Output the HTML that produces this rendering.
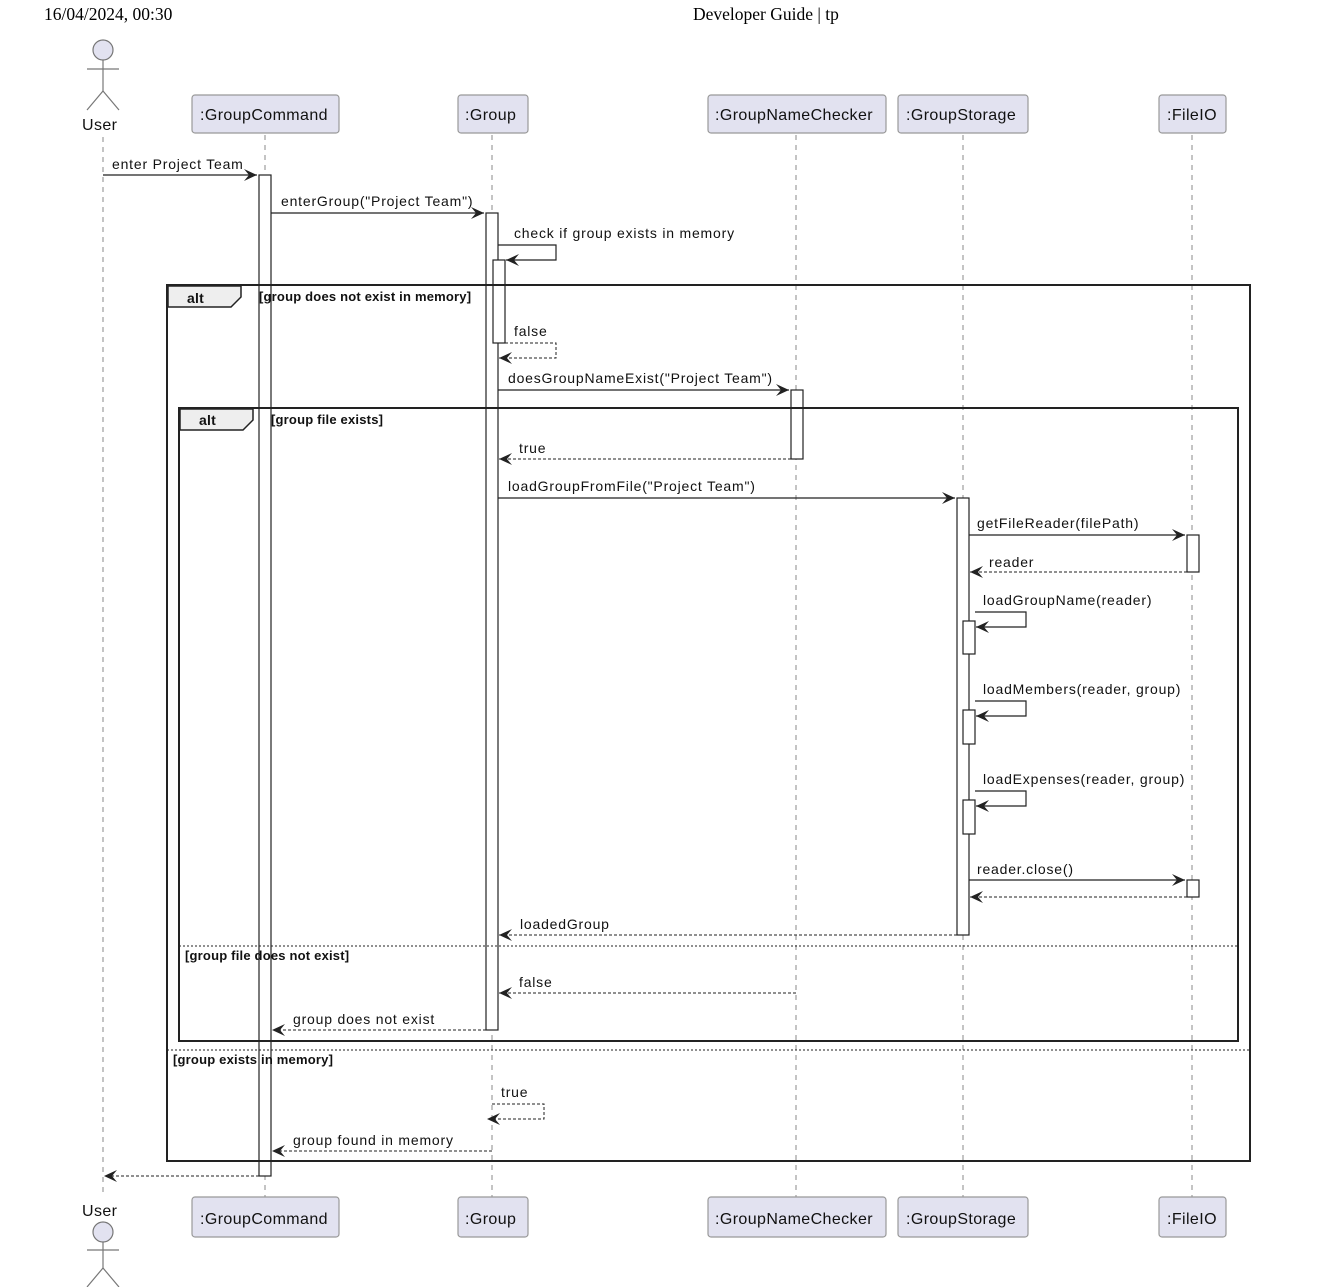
<!DOCTYPE html>
<html><head><meta charset="utf-8"><style>
html,body{margin:0;padding:0;background:#fff;}
svg{display:block;}
text{font-family:"Liberation Sans",Arial,sans-serif;font-size:14px;fill:#111;letter-spacing:0.8px;}
.hd{font-family:"Liberation Serif",serif;font-size:17.5px;fill:#000;letter-spacing:0;}
.b{font-weight:bold;font-size:13px;letter-spacing:0.2px;}
.p{font-size:16px;fill:#111;letter-spacing:0.4px;}
</style></head><body>
<svg width="1324" height="1287" viewBox="0 0 1324 1287" xmlns="http://www.w3.org/2000/svg">
<defs>
<marker id="ah" markerWidth="16" markerHeight="14" refX="13" refY="6" orient="auto" markerUnits="userSpaceOnUse">
<path d="M0,0 L13,6 L0,12 L5,6 Z" fill="#222"/>
</marker>
</defs>
<text class="hd" x="44" y="20">16/04/2024, 00:30</text>
<text class="hd" x="693" y="20">Developer Guide | tp</text>

<g stroke="#888" stroke-dasharray="5,5" stroke-width="1">
<line x1="103" y1="137" x2="103" y2="1195"/>
<line x1="265" y1="135" x2="265" y2="1197"/>
<line x1="492" y1="135" x2="492" y2="1197"/>
<line x1="796" y1="135" x2="796" y2="1197"/>
<line x1="963" y1="135" x2="963" y2="1197"/>
<line x1="1192" y1="135" x2="1192" y2="1197"/>
</g>

<g stroke="#777" fill="none" stroke-width="1.2">
<circle cx="103" cy="50" r="10" fill="#e2e2f0"/>
<line x1="103" y1="60" x2="103" y2="91"/><line x1="87" y1="69" x2="119" y2="69"/>
<line x1="103" y1="91" x2="87" y2="110"/><line x1="103" y1="91" x2="119" y2="110"/>
<circle cx="103" cy="1232" r="10" fill="#e2e2f0"/>
<line x1="103" y1="1242" x2="103" y2="1268"/><line x1="87" y1="1250" x2="119" y2="1250"/>
<line x1="103" y1="1268" x2="87" y2="1287"/><line x1="103" y1="1268" x2="119" y2="1287"/>
</g>
<text class="p" x="82" y="130">User</text>
<text class="p" x="82" y="1216">User</text>

<g fill="#e2e2f0" stroke="#999" stroke-width="1.2">
<rect x="192" y="95" width="147" height="38" rx="3"/><rect x="458" y="95" width="70" height="38" rx="3"/>
<rect x="708" y="95" width="178" height="38" rx="3"/><rect x="898" y="95" width="130" height="38" rx="3"/>
<rect x="1159" y="95" width="67" height="38" rx="3"/>
<rect x="192" y="1197" width="147" height="40" rx="3"/><rect x="458" y="1197" width="70" height="40" rx="3"/>
<rect x="708" y="1197" width="178" height="40" rx="3"/><rect x="898" y="1197" width="130" height="40" rx="3"/>
<rect x="1159" y="1197" width="67" height="40" rx="3"/>
</g>
<text class="p" x="200" y="120">:GroupCommand</text><text class="p" x="465" y="120">:Group</text>
<text class="p" x="715" y="120">:GroupNameChecker</text><text class="p" x="906" y="120">:GroupStorage</text>
<text class="p" x="1167" y="120">:FileIO</text>
<text class="p" x="200" y="1224">:GroupCommand</text><text class="p" x="465" y="1224">:Group</text>
<text class="p" x="715" y="1224">:GroupNameChecker</text><text class="p" x="906" y="1224">:GroupStorage</text>
<text class="p" x="1167" y="1224">:FileIO</text>

<g fill="#fff" stroke="#222" stroke-width="1.2">
<rect x="259" y="175" width="12" height="1001"/>
<rect x="486" y="213" width="12" height="817"/>
<rect x="493" y="260" width="12" height="83"/>
<rect x="791" y="390" width="12" height="69"/>
<rect x="957" y="498" width="12" height="437"/>
<rect x="1187" y="535" width="12" height="37"/>
<rect x="1187" y="880" width="12" height="17"/>
<rect x="963" y="621" width="12" height="33"/>
<rect x="963" y="710" width="12" height="34"/>
<rect x="963" y="800" width="12" height="34"/>
</g>

<g fill="none" stroke="#222" stroke-width="2">
<rect x="167" y="285" width="1083" height="876"/>
<rect x="179" y="408" width="1059" height="633"/>
</g>
<path d="M168,286 H241 V297 L231,307 H168 Z" fill="#eee" stroke="#222" stroke-width="1.5"/>
<path d="M180,409 H253 V420 L243,430 H180 Z" fill="#eee" stroke="#222" stroke-width="1.5"/>
<text class="b" x="187" y="303" style="font-size:14px">alt</text>
<text class="b" x="199" y="425" style="font-size:14px">alt</text>
<text class="b" x="259" y="301">[group does not exist in memory]</text>
<text class="b" x="271" y="424">[group file exists]</text>
<g stroke="#222" stroke-dasharray="2,2" stroke-width="1">
<line x1="179" y1="946" x2="1238" y2="946"/>
<line x1="167" y1="1050" x2="1250" y2="1050"/>
</g>
<text class="b" x="185" y="960">[group file does not exist]</text>
<text class="b" x="173" y="1064">[group exists in memory]</text>

<g stroke="#222" stroke-width="1.2" fill="none" marker-end="url(#ah)">
<line x1="103" y1="175" x2="257" y2="175"/>
<line x1="271" y1="213" x2="484" y2="213"/>
<polyline points="498,245 556,245 556,260 506,260"/>
<line x1="498" y1="390" x2="789" y2="390"/>
<line x1="498" y1="498" x2="955" y2="498"/>
<line x1="969" y1="535" x2="1185" y2="535"/>
<polyline points="975,612 1026,612 1026,627 976,627"/>
<polyline points="975,701 1026,701 1026,716 976,716"/>
<polyline points="975,791 1026,791 1026,806 976,806"/>
<line x1="969" y1="880" x2="1185" y2="880"/>
</g>
<g stroke="#222" stroke-width="1" fill="none" stroke-dasharray="3,2" marker-end="url(#ah)">
<polyline points="505,343 556,343 556,358 499,358"/>
<line x1="791" y1="459" x2="499" y2="459"/>
<line x1="1187" y1="572" x2="970" y2="572"/>
<line x1="1187" y1="897" x2="970" y2="897"/>
<line x1="957" y1="935" x2="499" y2="935"/>
<line x1="796" y1="993" x2="499" y2="993"/>
<line x1="486" y1="1030" x2="272" y2="1030"/>
<polyline points="492,1104 544,1104 544,1119 487,1119"/>
<line x1="492" y1="1151" x2="272" y2="1151"/>
<line x1="259" y1="1176" x2="104" y2="1176"/>
</g>

<text x="112" y="169">enter Project Team</text>
<text x="281" y="206">enterGroup("Project Team")</text>
<text x="514" y="238">check if group exists in memory</text>
<text x="514" y="336">false</text>
<text x="508" y="383">doesGroupNameExist("Project Team")</text>
<text x="519" y="453">true</text>
<text x="508" y="491">loadGroupFromFile("Project Team")</text>
<text x="977" y="528">getFileReader(filePath)</text>
<text x="989" y="567">reader</text>
<text x="983" y="605">loadGroupName(reader)</text>
<text x="983" y="694">loadMembers(reader, group)</text>
<text x="983" y="784">loadExpenses(reader, group)</text>
<text x="977" y="874">reader.close()</text>
<text x="520" y="929">loadedGroup</text>
<text x="519" y="987">false</text>
<text x="293" y="1024">group does not exist</text>
<text x="501" y="1097">true</text>
<text x="293" y="1145">group found in memory</text>
</svg>
</body></html>
